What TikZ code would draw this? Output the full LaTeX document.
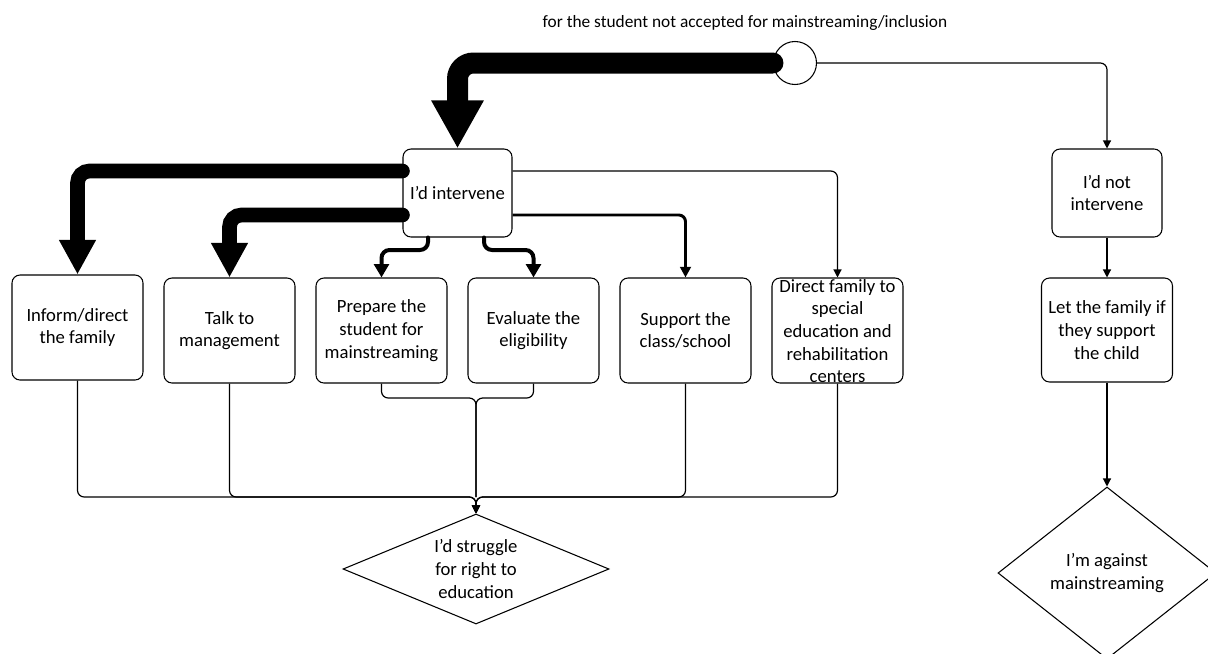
\documentclass[tikz,border=0pt]{standalone}
\usepackage{fontspec}
\setmainfont{Carlito}
\usetikzlibrary{arrows.meta,shapes.geometric}
\begin{document}
\begin{tikzpicture}[x=0.75pt,y=-0.75pt,
  box/.style={draw, line width=0.8pt, rounded corners=6pt, minimum width=98.25pt, minimum height=78.75pt, inner sep=0pt, align=center, font=\fontsize{14}{17}\selectfont},
  txt/.style={inner sep=0pt, align=center, font=\fontsize{14}{17}\selectfont},
  dia/.style={draw, diamond, line width=0.8pt, inner sep=0pt, align=center, font=\fontsize{14}{17}\selectfont},
  huge/.style={line width=15.75pt, line cap=round, rounded corners=12pt, -{Triangle[length=36pt,width=36.75pt]}},
  big/.style={line width=11pt, line cap=round, rounded corners=9pt, -{Triangle[length=26pt,width=26pt]}},
  mid/.style={line width=3pt, line cap=round, rounded corners=6pt, -{Triangle[length=10pt,width=11pt]}},
  med/.style={line width=2.2pt, rounded corners=5pt, -{Triangle[length=8pt,width=8pt]}},
  thinc/.style={line width=0.9pt, rounded corners=5pt, -{Triangle[length=6pt,width=6pt]}},
  plain/.style={line width=0.9pt, rounded corners=5pt}
]
\useasboundingbox (0,0) rectangle (1208,654);

\coordinate (y171) at (0,171);
\coordinate (y215) at (0,215);
\coordinate (pa) at (428,250);
\coordinate (pb) at (484,250);
\coordinate (m) at (476,497);
\coordinate (b) at (476,398);

\node[font=\fontsize{13}{15.6}\selectfont, inner sep=0pt] (lbl) at (745,23) {for the student not accepted for mainstreaming/inclusion};

\node[draw, circle, minimum size=32.25pt, inner sep=0pt, line width=0.8pt] (circ) at (795,63) {};

\node[box, minimum width=81.75pt, minimum height=66pt] (intv) at (457.5,193) {I’d intervene};
\node[box, minimum width=82.5pt, minimum height=66pt] (notintv) at (1107,193) {I’d not\\intervene};

\node[box] (inform) at (77.5,327.5) {Inform/direct\\the family};
\node[box] (talk) at (229.5,330.5) {Talk to\\management};
\node[box] (prep) at (381.5,330.5) {Prepare the\\student for\\mainstreaming};
\node[box] (eval) at (533.5,330.5) {Evaluate the\\eligibility};
\node[box] (supp) at (685.5,330.5) {Support the\\class/school};
\node[box] (direct) at (837.5,330.5) {};
\node[txt] (directtxt) at (837.5,331) {Direct family to\\special\\education and\\rehabilitation\\centers};
\node[box, minimum height=78pt] (letfam) at (1107,330) {Let the family if\\they support\\the child};

\node[dia, aspect=2.42, minimum width=199.5pt, minimum height=82.5pt] (d1) at (476,569) {I’d struggle\\for right to\\education};
\node[dia, aspect=1.27, minimum width=163.5pt, minimum height=129pt] (d2) at (1107,573) {I’m against\\mainstreaming};

% thick arrows
\draw[huge] (circ.west) -| (intv.north);
\draw[big] (intv.west |- y171) -| (inform.north);
\draw[big] (intv.west |- y215) -| (talk.north);
\draw[mid] (intv.south -| pa) -- (pa) -| (prep.north);
\draw[mid] (intv.south -| pb) -- (pb) -| (eval.north);
\draw[med] (intv.east |- y215) -| (supp.north);
\draw[thinc] (intv.east |- y171) -| (direct.north);

% right branch
\draw[thinc] (circ.east) -| (notintv.north);
\draw[thinc] (notintv.south) -- (letfam.north);
\draw[thinc] (letfam.south) -- (d2.north);

% merging lines
\draw[plain] (prep.south) |- (b) -- (m);
\draw[plain] (eval.south) |- (b) -- (m);
\draw[thinc] (inform.south) |- (m) -- (d1.north);
\draw[thinc] (talk.south) |- (m) -- (d1.north);
\draw[thinc] (supp.south) |- (m) -- (d1.north);
\draw[thinc] (direct.south) |- (m) -- (d1.north);
\end{tikzpicture}
\end{document}
